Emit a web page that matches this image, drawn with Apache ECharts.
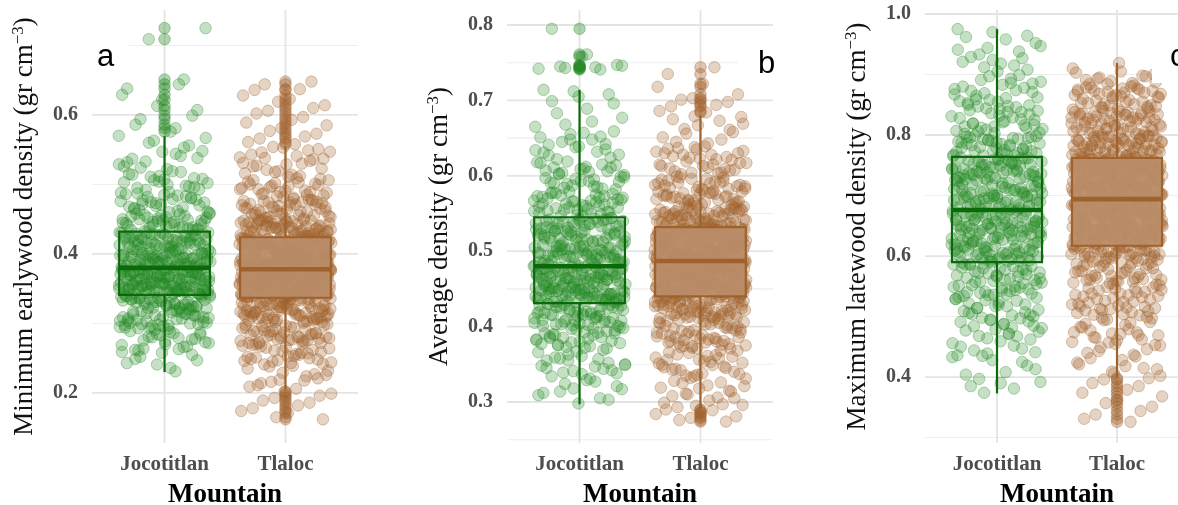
<!DOCTYPE html>
<html>
<head>
<meta charset="utf-8">
<script src="https://cdn.jsdelivr.net/npm/echarts@6/dist/echarts.min.js"></script>
<style>
  html, body { margin: 0; padding: 0; background: #ffffff; }
  #chart { width: 1178px; height: 505px; }
</style>
</head>
<body>
<div id="chart"></div>
<script>
const mountains = ['Jocotitlan', 'Tlaloc'];

// Ring densities in kg m^-3 (plotted as gr cm^-3, i.e. divided by 1000)
const minEarlyJoco = [
  231,252,247,258,243,266,281,273,288,262,277,285,269,279,264,287,274,
  301,314,296,308,319,293,311,305,298,316,303,309,292,317,300,312,295,306,318,299,310,304,
  327,335,322,339,330,324,337,333,321,328,340,326,334,331,323,338,329,336,325,332,340,
  345,352,348,357,343,355,350,359,346,353,342,356,349,351,358,344,354,347,352,359,343,350,356,348,345,357,353,346,355,351,
  364,371,377,362,368,375,366,379,361,373,369,376,363,372,378,365,370,374,367,361,377,364,372,368,375,363,370,379,366,373,
  383,391,398,386,402,381,394,389,400,385,396,392,404,382,388,397,393,384,401,390,399,387,395,403,381,392,386,398,383,394,389,400,
  409,418,426,412,430,407,421,415,428,410,424,417,431,406,419,413,427,422,408,416,429,411,425,420,414,431,418,423,
  436,448,441,455,439,452,444,458,434,447,450,438,456,443,453,435,449,442,459,446,
  463,478,471,486,467,482,474,489,465,480,469,476,484,472,493,507,515,498,511,502,519,495,509,504,
  526,541,533,548,522,537,556,563,570,581,594,607,622,638,651,709,725,
  236,249,255,241,259,263,276,284,270,289,267,280,272,286,261,278,283,
  294,307,315,302,297,313,320,291,304,318,299,310,296,307,314,293,301,316,305,312,298,309,
  323,332,338,326,335,321,330,341,328,336,324,333,339,327,322,334,329,337,325,331,338,
  347,354,342,358,350,345,356,349,343,353,360,346,351,357,344,352,348,355,342,359,350,346,354,343,357,349,352,345,356,348,
  362,374,368,379,365,371,363,377,369,375,361,367,373,378,364,370,366,376,372,362,368,374,365,379,371,363,377,369,366,375,
  385,397,390,403,382,394,388,399,384,392,401,387,396,381,393,389,404,386,398,391,383,395,400,388,402,385,393,397,382,390,399,384,
  411,423,417,429,406,420,414,427,409,425,418,431,412,422,407,416,428,413,424,410,419,430,415,426,408,421,411,429,
  438,451,445,457,433,448,440,454,437,446,458,442,450,435,455,444,439,452,447,460,
  466,481,473,488,462,477,470,485,468,483,475,461,479,487,496,512,503,518,492,508,500,514,497,506,
  529,544,524,538,547,532,553,560,567,576,586,599,613,629,644
];
const minEarlyTlaloc = [
  162,171,178,186,193,199,206,214,221,229,235,218,238,226,
  243,251,262,247,268,255,241,259,266,249,257,245,264,253,
  273,286,279,294,271,282,298,276,289,284,292,275,281,296,278,287,272,291,283,299,277,288,
  304,318,326,311,333,302,321,315,329,308,336,313,324,306,331,319,301,327,310,335,316,322,305,330,312,325,309,334,317,303,328,314,320,307,332,323,311,336,318,326,
  339,346,352,341,357,348,343,354,338,350,345,356,340,349,353,342,347,355,351,344,358,339,348,352,341,356,346,343,354,350,338,347,357,345,353,340,349,355,342,351,344,357,348,339,352,
  361,369,375,364,372,359,367,377,362,370,366,374,360,368,376,363,371,365,373,378,361,369,364,375,359,367,372,362,377,366,370,360,374,368,363,376,371,365,361,373,369,364,377,367,372,
  381,389,396,384,392,379,387,399,382,394,386,390,398,380,385,393,388,397,383,391,395,381,389,384,399,387,392,380,396,385,390,383,394,388,398,382,386,393,391,379,397,384,389,395,381,387,
  403,412,419,406,422,409,415,401,418,411,424,405,414,420,408,416,402,421,410,417,404,413,423,407,419,411,401,415,422,409,418,405,412,420,403,416,410,424,406,414,421,408,417,402,
  427,438,445,431,449,434,442,426,440,447,432,437,444,429,436,448,433,441,425,446,439,430,443,435,428,447,437,441,432,449,
  453,467,474,459,478,462,470,456,476,465,451,472,460,468,455,479,463,471,458,466,475,452,
  484,497,506,489,502,493,509,486,499,482,504,491,496,488,514,527,536,519,531,512,538,523,529,543,549,554,547,
  558,566,573,581,589,597,606,614,623,636,648,
  165,174,182,189,196,202,209,224,216,232,239,211,227,219,
  246,258,265,242,253,269,250,261,244,256,267,248,260,252,
  274,288,281,295,270,285,277,293,280,290,272,297,283,276,289,279,294,271,286,282,298,275,
  307,320,331,313,325,302,317,334,309,322,328,304,315,336,311,319,330,306,324,314,333,301,318,327,310,335,305,321,316,329,308,323,332,303,312,326,337,317,309,328,
  341,350,356,344,338,353,347,358,342,349,355,340,346,352,357,343,348,354,339,351,345,356,341,350,347,353,338,344,355,349,342,357,346,351,340,354,348,343,352,356,345,339,350,347,353,
  363,371,376,360,368,374,365,361,372,377,366,369,362,375,359,370,367,373,364,378,360,368,371,363,376,366,372,361,374,369,365,377,362,370,367,375,359,373,364,371,368,376,363,366,374,
  383,391,397,386,380,394,388,399,382,390,396,385,393,379,387,398,381,392,395,384,389,400,382,386,394,380,391,397,385,388,393,383,399,387,390,381,396,384,392,398,386,379,395,389,383,391,
  404,413,421,407,416,402,419,410,423,405,414,418,401,411,422,408,417,403,420,412,406,415,424,409,419,402,413,421,407,416,404,411,423,405,418,410,414,401,420,408,417,403,422,412,
  429,441,447,433,426,438,444,431,449,436,425,442,434,446,428,439,432,448,437,427,443,435,440,430,445,426,438,433,447,441,
  455,469,476,461,452,473,464,457,478,467,453,471,460,475,458,466,451,474,462,470,456,477,
  483,495,503,487,508,491,500,485,498,506,481,493,501,489,516,530,521,537,511,526,534,518,539,541,546,551,553,
  561,569,577,585,593,602,610,619,628,637,644
];
const avgJoco = [
  298,312,305,324,317,329,334,352,341,366,347,358,338,361,345,369,355,349,
  374,389,381,396,377,392,385,399,372,387,394,379,383,398,376,391,
  404,418,427,410,422,402,415,429,408,420,413,425,401,417,430,406,423,411,419,403,426,414,409,421,407,428,
  434,447,440,452,437,444,449,432,442,454,436,446,439,451,433,443,448,438,453,441,435,450,445,437,452,440,447,433,444,449,
  458,471,464,477,460,468,474,457,466,479,462,470,475,459,467,473,456,463,478,469,461,476,465,472,458,479,466,462,474,470,
  484,497,490,506,487,501,494,509,482,499,492,504,486,496,502,489,507,483,498,493,505,488,500,495,481,508,491,503,485,497,
  514,529,538,521,543,517,533,525,540,512,531,519,536,527,544,515,523,539,511,534,528,542,518,526,537,513,530,522,541,520,
  549,563,571,556,578,552,566,559,575,547,569,561,554,573,558,567,550,577,564,555,572,560,
  584,599,612,591,606,587,618,595,603,582,609,597,615,589,601,593,611,
  624,638,651,632,645,628,657,641,635,648,665,672,683,696,705,714,741,743,746,761,795,
  303,318,309,327,314,321,337,355,344,363,350,331,359,342,367,348,357,339,
  378,393,385,371,397,382,389,375,395,380,391,386,373,398,384,390,
  406,419,428,412,403,424,415,430,409,421,405,417,426,411,423,401,414,429,408,420,416,425,402,418,410,427,
  436,449,441,453,434,446,438,451,443,432,448,440,454,437,445,450,435,442,452,439,447,433,444,455,436,441,448,438,451,443,
  459,472,466,478,461,469,475,456,464,480,467,460,473,477,463,470,457,476,465,471,462,479,468,458,474,466,461,477,469,464,
  486,499,493,505,483,497,490,508,485,501,494,488,503,481,496,506,491,499,484,502,489,509,495,487,504,492,498,482,507,500,
  516,532,541,523,513,536,527,544,519,530,514,539,525,534,518,542,521,529,512,537,524,543,517,533,526,540,515,531,522,535,
  551,565,574,558,546,570,562,579,553,567,557,576,548,563,571,555,568,560,577,552,566,573,
  586,602,614,593,607,583,619,598,605,590,611,596,617,585,604,592,609,
  627,642,655,634,648,622,659,639,631,652,668,677,689,699,708,712,742,744,745,747,758
];
const avgTlaloc = [
  274,279,284,289,293,305,318,299,326,311,296,322,308,315,
  334,351,362,342,368,338,356,347,365,331,353,344,360,336,349,358,
  374,392,403,381,398,372,387,409,378,395,384,401,376,390,406,383,397,371,388,404,380,394,386,407,379,399,
  413,427,436,418,431,411,424,439,416,429,421,434,414,426,438,419,432,412,425,437,417,430,422,435,415,428,420,433,410,423,438,418,431,426,
  443,452,459,446,463,449,455,441,458,450,464,444,453,461,447,456,442,460,451,448,457,445,462,454,440,459,446,452,463,449,443,456,451,461,447,458,444,453,464,450,441,457,448,455,462,
  468,476,483,471,486,473,479,466,481,474,485,469,477,482,472,478,467,484,475,470,480,486,473,468,476,483,471,479,466,481,474,469,485,477,472,482,467,478,484,470,475,480,473,468,476,
  490,498,505,493,509,496,501,488,503,494,507,491,499,504,489,497,506,492,500,508,495,502,490,498,505,493,509,488,501,496,503,491,507,494,499,504,489,497,506,492,500,495,508,502,490,498,
  513,521,528,516,531,518,524,511,527,519,530,514,522,526,512,520,529,517,523,515,525,531,513,521,528,516,519,524,511,527,514,530,522,518,526,512,520,529,517,523,515,525,528,521,
  535,547,556,539,552,534,544,559,541,550,537,548,555,533,543,553,538,546,557,540,549,536,545,558,542,551,534,547,554,539,544,550,
  564,579,592,570,586,562,575,598,567,583,590,572,561,581,595,568,577,588,565,584,573,596,569,580,591,563,576,587,
  604,619,633,611,626,607,638,615,622,602,630,613,636,609,624,617,628,645,658,667,651,673,662,678,
  684,692,698,703,718,744,
  276,281,286,290,297,310,321,302,328,314,295,319,306,325,
  337,354,366,345,332,359,349,363,340,356,346,368,335,352,361,343,
  377,395,406,384,373,400,389,408,381,393,375,403,386,398,371,391,405,382,396,379,388,402,374,392,385,409,
  416,430,439,421,412,434,425,437,418,428,411,436,423,432,415,427,440,420,433,413,426,438,419,429,414,435,424,431,417,422,436,428,412,433,
  445,454,461,448,441,457,451,464,443,459,447,453,462,440,456,450,445,463,452,458,442,449,460,455,446,464,444,451,457,448,462,441,454,459,447,450,463,443,456,452,461,445,449,458,453,
  470,478,485,472,467,481,475,487,469,483,474,479,466,484,471,477,486,473,480,468,482,476,485,470,478,467,483,472,480,475,486,469,481,474,477,466,484,471,479,473,482,468,476,485,470,
  492,500,507,495,488,503,497,509,490,505,494,499,506,489,502,496,508,491,501,493,504,498,510,492,500,487,506,495,503,490,508,497,494,505,489,501,499,507,493,502,496,509,491,504,498,495,
  515,523,530,518,512,526,520,532,514,528,517,524,511,529,519,525,531,513,522,527,516,521,530,514,526,518,512,528,523,517,531,520,515,525,529,513,522,527,519,524,511,530,516,521,
  537,549,558,541,533,553,545,560,539,551,535,556,543,548,536,554,540,547,559,538,552,534,546,557,542,550,536,555,544,539,553,548,
  566,581,594,572,562,588,577,599,569,585,574,591,563,579,596,571,583,567,590,576,598,565,582,573,593,568,586,578,
  606,621,635,613,603,628,617,639,610,625,604,632,615,637,608,623,630,648,656,669,643,675,661,679,
  686,694,701,708,722,735
];
const maxLateJoco = [
  374,392,408,385,419,428,436,452,468,441,459,477,447,464,433,471,
  484,503,517,491,526,498,511,487,522,507,494,529,482,514,500,519,
  534,548,541,556,537,552,545,559,532,550,539,554,543,564,578,571,586,562,575,583,568,589,566,580,573,561,587,576,
  594,612,627,603,621,598,615,633,607,619,592,625,610,631,600,617,596,623,605,629,613,591,609,634,601,618,595,626,606,614,
  639,655,668,644,662,651,673,637,658,647,666,641,653,670,645,660,636,657,649,675,643,664,652,638,669,646,661,654,671,648,
  680,697,712,686,704,691,718,683,700,694,709,678,688,715,698,705,682,692,710,687,701,696,719,679,707,690,713,685,699,703,
  724,741,756,732,749,727,762,738,745,721,753,735,760,729,743,751,723,737,758,731,747,726,754,740,733,761,744,728,750,736,
  768,783,795,774,789,766,780,798,771,786,777,792,765,784,773,797,779,788,770,793,
  804,823,841,812,836,807,829,847,817,832,802,826,844,810,838,819,849,814,
  856,874,891,862,883,853,878,897,867,886,859,871,905,921,938,912,947,958,929,964,970,975,
  381,397,413,390,404,425,439,456,472,444,462,479,450,467,435,475,
  488,506,520,495,529,502,514,485,524,509,497,527,481,517,504,492,
  536,551,544,558,531,547,540,555,535,549,542,557,538,566,581,574,588,563,577,585,570,590,568,583,572,560,579,586,
  597,614,629,606,623,593,617,635,604,621,599,627,611,632,602,619,595,625,608,630,616,592,610,633,603,620,598,628,607,612,
  641,657,670,647,664,653,675,639,660,649,668,644,655,672,638,662,650,674,646,659,642,666,654,636,671,648,663,656,673,645,
  682,699,714,689,706,693,720,681,702,696,711,677,690,716,700,708,684,695,712,688,704,698,717,680,709,692,715,686,701,705,
  726,743,758,734,751,729,763,740,747,722,755,737,761,731,745,753,725,739,759,733,749,728,756,742,735,762,746,730,752,738,
  770,785,797,776,791,767,782,799,773,788,779,794,766,786,775,796,781,790,772,795,
  806,825,843,814,838,809,831,848,819,834,803,828,846,812,840,821,850,816,
  858,876,893,865,885,855,880,899,869,888,861,873,908,924,941,915,933,952,918,962,927,944
];
const maxLateTlaloc = [
  326,338,351,362,374,385,396,402,418,431,446,409,424,437,443,
  453,471,488,462,495,458,479,466,491,455,483,474,498,469,
  504,523,541,512,536,507,529,548,518,533,502,526,544,515,538,509,531,521,546,513,
  553,571,586,562,578,556,582,568,589,559,575,565,584,552,573,561,580,567,587,558,
  593,606,614,599,611,596,603,616,591,609,601,613,597,607,594,615,604,610,598,612,602,
  620,634,647,626,641,653,629,638,622,645,632,650,624,637,644,628,654,619,635,648,631,642,625,651,636,621,646,630,639,652,623,643,633,649,627,640,618,646,634,625,652,637,629,643,621,
  659,673,686,664,680,692,668,677,661,689,671,683,657,675,690,666,679,663,687,670,682,658,676,693,665,681,660,688,672,684,662,678,691,667,674,685,656,669,680,693,664,676,687,661,671,
  697,711,724,703,718,700,714,728,706,721,698,716,709,726,702,719,712,695,723,707,715,729,701,720,710,725,704,717,696,713,727,708,722,699,716,705,729,711,718,702,724,714,698,721,707,726,
  733,746,758,739,752,735,749,761,742,755,731,744,757,738,751,736,760,745,732,753,741,748,756,734,750,762,740,747,759,737,754,743,731,749,757,739,752,745,761,735,748,755,742,758,
  765,781,794,771,788,767,784,799,776,790,764,779,795,770,786,773,797,782,768,791,775,787,763,780,796,772,789,777,785,766,792,774,798,783,
  804,821,836,811,829,807,825,839,815,832,802,819,834,810,827,805,823,838,813,831,808,817,835,801,826,814,833,820,
  844,861,875,851,868,847,864,879,855,871,842,858,873,849,866,853,877,845,862,870,884,897,889,903,886,893,900,919,
  331,344,357,368,379,390,398,406,421,434,449,413,428,440,415,
  457,474,490,465,497,461,482,469,494,452,486,477,499,472,
  506,525,543,514,538,510,532,549,520,535,503,528,546,517,540,511,534,524,547,516,
  555,573,588,564,580,558,584,570,590,561,577,567,586,554,575,563,582,569,589,560,
  595,608,616,601,613,598,605,617,592,611,603,614,599,609,596,616,606,612,600,610,604,
  622,636,649,628,643,655,631,640,624,647,634,652,626,639,646,630,653,620,637,650,633,644,627,654,638,623,648,632,641,651,625,645,635,650,629,642,619,647,636,627,654,639,631,645,623,
  661,675,688,666,682,694,670,679,663,691,673,685,659,677,692,668,681,665,689,672,684,660,678,694,667,683,662,690,674,686,664,680,693,669,676,687,658,671,682,691,666,678,689,663,673,
  699,713,726,705,720,702,716,730,708,723,700,718,711,728,704,721,714,697,725,709,717,730,703,722,712,727,706,719,698,715,729,710,724,701,718,707,726,713,720,704,725,716,700,723,709,728,
  735,748,760,741,754,737,751,762,744,757,733,746,759,740,753,738,761,747,734,755,743,750,758,736,752,761,742,749,757,739,756,745,733,751,759,741,754,747,762,737,750,757,744,760,
  767,783,796,773,790,769,786,800,778,792,766,781,797,772,788,775,799,784,770,793,777,789,765,782,798,774,791,779,787,768,794,776,799,785,
  806,823,838,813,831,809,827,840,817,834,803,821,836,812,829,807,825,839,815,833,810,819,837,804,828,816,835,822,
  846,863,877,853,870,849,866,880,857,873,843,860,875,851,868,855,878,847,864,872,882,895,887,905,891,898,884,910
];

// Box summaries in gr cm^-3: lower whisker, Q1, median, Q3, upper whisker (Jocotitlan, Tlaloc)
const boxMinEarly = [[0.230, 0.341, 0.380, 0.432, 0.570], [0.205, 0.337, 0.378, 0.424, 0.555]];
const boxAvg      = [[0.297, 0.431, 0.480, 0.545, 0.714], [0.292, 0.440, 0.487, 0.532, 0.680]];
const boxMaxLate  = [[0.373, 0.590, 0.676, 0.764, 0.975], [0.400, 0.617, 0.694, 0.762, 0.919]];

// Tick labels (major grid) and minor grid values
const ticksMinEarly = [0.2, 0.4, 0.6];
const minorMinEarly = [0.3, 0.5, 0.7];
const ticksAvg = [0.3, 0.4, 0.5, 0.6, 0.7, 0.8];
const minorAvg = [0.25, 0.35, 0.45, 0.55, 0.65, 0.75];
const ticksMaxLate = [0.4, 0.6, 0.8, 1.0];
const minorMaxLate = [0.3, 0.5, 0.7, 0.9];

const SERIF = '"Liberation Serif", "Times New Roman", serif';
const SANS = '"Liberation Sans", Arial, sans-serif';

const pointFill = ['rgba(34,136,34,0.33)', 'rgba(160,98,44,0.35)'];
const pointEdge = ['rgba(34,136,34,0.42)', 'rgba(160,98,44,0.44)'];
const outlierFill = ['rgba(34,136,34,0.45)', 'rgba(160,98,44,0.45)'];
const boxStroke = ['#0a6a0a', '#9e622d'];
const boxFill = ['rgba(34,139,34,0.08)', 'rgba(186,142,106,0.9)'];

const panels = [
  { letter: 'a', title: 'Minimum earlywood density', pts: [minEarlyJoco, minEarlyTlaloc], box: boxMinEarly,
    ticks: ticksMinEarly, minor: minorMinEarly, min: 0.128, max: 0.751, left: 92, width: 266,
    cover: [85, 25, 44, 52], letterAt: [97, 57] },
  { letter: 'b', title: 'Average density', pts: [avgJoco, avgTlaloc], box: boxAvg,
    ticks: ticksAvg, minor: minorAvg, min: 0.2456, max: 0.8199, left: 507, width: 266,
    cover: [738, 32, 60, 56], letterAt: [758, 64] },
  { letter: 'c', title: 'Maximum latewood density', pts: [maxLateJoco, maxLateTlaloc], box: boxMaxLate,
    ticks: ticksMaxLate, minor: minorMaxLate, min: 0.291, max: 1.0066, left: 925, width: 264,
    cover: [1152, 22, 40, 61], letterAt: [1170, 57] }
];

// horizontal spread of the jittered points, in category units
function jitter(i, g) {
  const f = ((i + 1) * 0.6180339887 + g * 0.29) % 1;
  return (2 * f - 1) * 0.38;
}

const grid = [], xAxis = [], yAxis = [], series = [], graphic = [];

panels.forEach((p, k) => {
  grid.push({ left: p.left, width: p.width, top: 10, height: 433, outerBoundsMode: 'none' });

  xAxis.push({
    type: 'value', gridIndex: k, min: 0.4, max: 2.6,
    axisLine: { show: false }, axisTick: { show: false }, splitLine: { show: false },
    axisLabel: {
      customValues: [1, 2], margin: 11,
      formatter: v => mountains[Math.round(v) - 1],
      fontFamily: SERIF, fontWeight: 'bold', fontSize: 21, color: '#4d4d4d', lineHeight: 22
    },
    name: 'Mountain', nameLocation: 'middle', nameGap: 38,
    nameTextStyle: { fontFamily: SERIF, fontWeight: 'bold', fontSize: 27, color: '#000', lineHeight: 28 }
  });

  yAxis.push({
    type: 'value', gridIndex: k, min: p.min, max: p.max,
    axisLine: { show: false }, axisTick: { show: false }, splitLine: { show: false },
    axisLabel: {
      customValues: p.ticks, margin: 14,
      formatter: v => v.toFixed(1),
      fontFamily: SERIF, fontWeight: 'bold', fontSize: 20, color: '#4d4d4d'
    },
    name: '{t|' + p.title + ' (gr cm}{s|\u22123}{t|)}',
    nameLocation: 'middle', nameRotate: 90, nameGap: 52,
    nameTextStyle: {
      rich: {
        t: { fontFamily: SERIF, fontSize: 27, color: '#111', lineHeight: 30 },
        s: { fontFamily: SERIF, fontSize: 17, color: '#111', lineHeight: 16, verticalAlign: 'top' }
      }
    }
  });

  // background grid lines
  const lines = [];
  p.minor.forEach(v => lines.push({ dir: 'h', v: v, major: false }));
  p.ticks.forEach(v => lines.push({ dir: 'h', v: v, major: true }));
  [1, 2].forEach(v => lines.push({ dir: 'v', v: v, major: true }));
  series.push({
    type: 'custom', xAxisIndex: k, yAxisIndex: k, silent: true, z: 0, clip: false,
    data: lines.map(l => l.dir === 'v' ? [l.v, (p.min + p.max) / 2] : [1.5, l.v]),
    renderItem: (params, api) => {
      const l = lines[params.dataIndex];
      const cs = params.coordSys;
      if (l.dir === 'v') {
        const x = api.coord([l.v, (p.min + p.max) / 2])[0];
        return { type: 'line', shape: { x1: x, y1: cs.y, x2: x, y2: cs.y + cs.height },
                 style: { stroke: '#e4e4e4', lineWidth: 1.8 } };
      }
      const y = api.coord([1.5, l.v])[1];
      return { type: 'line', shape: { x1: cs.x, y1: y, x2: cs.x + cs.width, y2: y },
               style: { stroke: l.major ? '#e4e4e4' : '#eeeeee', lineWidth: l.major ? 1.8 : 1.1 } };
    }
  });

  // jittered observations
  p.pts.forEach((vals, g) => {
    series.push({
      type: 'scatter', xAxisIndex: k, yAxisIndex: k, silent: true, z: 2,
      symbol: 'circle', symbolSize: 11.5, large: false,
      itemStyle: { color: pointFill[g], borderColor: pointEdge[g], borderWidth: 1 },
      data: vals.map((v, i) => [g + 1 + jitter(i, g + 3 * k), v / 1000])
    });
  });

  // boxes and whiskers
  series.push({
    type: 'custom', xAxisIndex: k, yAxisIndex: k, silent: true, z: 3, clip: false,
    data: p.box.map((b, g) => [g + 1].concat(b)),
    encode: { x: 0, y: [1, 2, 3, 4, 5] },
    renderItem: (params, api) => {
      const g = params.dataIndex;
      const cat = api.value(0);
      const cx = api.coord([cat, api.value(3)])[0];
      const y = idx => api.coord([cat, api.value(idx)])[1];
      const yLo = y(1), yQ1 = y(2), yMd = y(3), yQ3 = y(4), yHi = y(5);
      const hw = api.size([0.75, 0])[0] / 2;
      const st = boxStroke[g];
      return {
        type: 'group',
        children: [
          { type: 'line', shape: { x1: cx, y1: yLo, x2: cx, y2: yQ1 }, style: { stroke: st, lineWidth: 2.2 } },
          { type: 'line', shape: { x1: cx, y1: yQ3, x2: cx, y2: yHi }, style: { stroke: st, lineWidth: 2.2 } },
          { type: 'rect', shape: { x: cx - hw, y: yQ3, width: 2 * hw, height: yQ1 - yQ3 },
            style: { fill: boxFill[g], stroke: st, lineWidth: 2.2 } },
          { type: 'line', shape: { x1: cx - hw, y1: yMd, x2: cx + hw, y2: yMd }, style: { stroke: st, lineWidth: 4.6 } }
        ]
      };
    }
  });

  // points beyond the whiskers, drawn on the box centre line
  p.pts.forEach((vals, g) => {
    const lo = p.box[g][0], hi = p.box[g][4];
    series.push({
      type: 'scatter', xAxisIndex: k, yAxisIndex: k, silent: true, z: 4,
      symbol: 'circle', symbolSize: 11.5,
      itemStyle: { color: outlierFill[g], borderColor: outlierFill[g], borderWidth: 1 },
      data: vals.filter(v => v / 1000 < lo || v / 1000 > hi).map(v => [g + 1, v / 1000])
    });
  });

  // panel letter on its white tag
  graphic.push({
    type: 'rect', z: 100, silent: true,
    shape: { x: p.cover[0], y: p.cover[1], width: p.cover[2], height: p.cover[3] },
    style: { fill: '#ffffff' }
  });
  graphic.push({
    type: 'text', z: 101, silent: true, x: p.letterAt[0], y: p.letterAt[1],
    style: { text: p.letter, font: '31px ' + SANS, fill: '#000', align: 'left', verticalAlign: 'middle' }
  });
});

const chart = echarts.init(document.getElementById('chart'), null, { renderer: 'canvas' });
chart.setOption({
  animation: false,
  backgroundColor: '#ffffff',
  grid: grid,
  xAxis: xAxis,
  yAxis: yAxis,
  series: series,
  graphic: graphic
});
</script>
</body>
</html>
